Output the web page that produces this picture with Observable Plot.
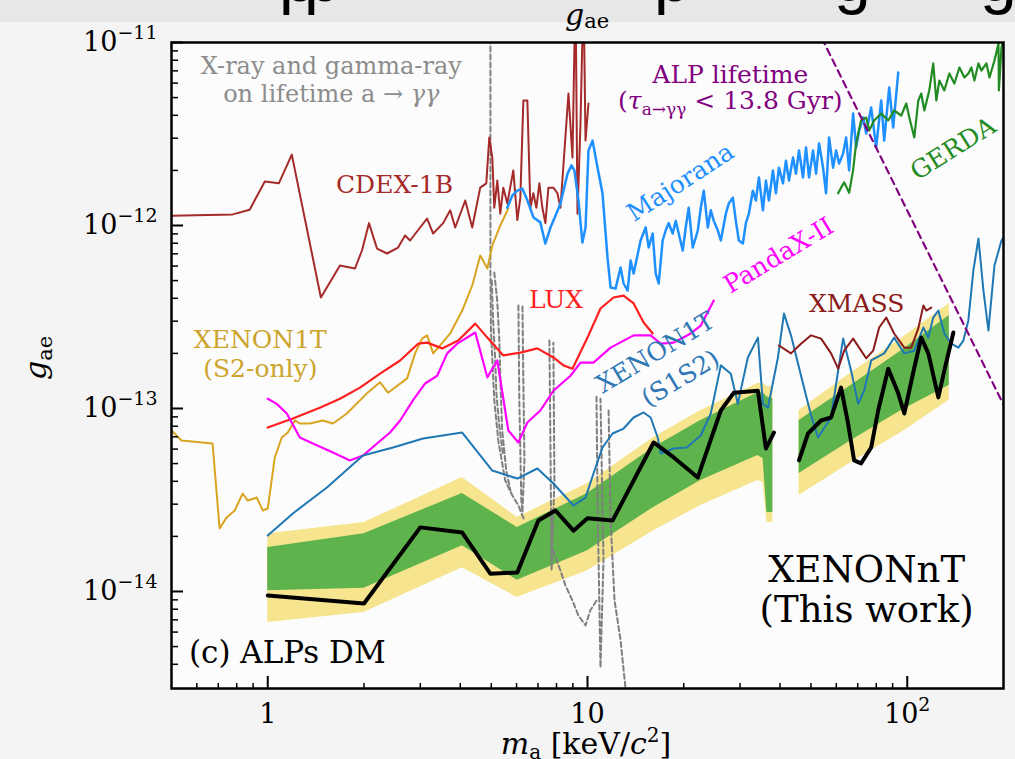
<!DOCTYPE html>
<html><head><meta charset="utf-8">
<script src="https://cdn.jsdelivr.net/npm/d3@7"></script>
<script src="https://cdn.jsdelivr.net/npm/@observablehq/plot@0.6"></script>
<style>
html,body{margin:0;padding:0;background:#f4f4f4;}
#chart{position:relative;width:1015px;height:759px;overflow:hidden;}
</style></head><body><div id="chart"></div>
<script>
// ---------- data: [mass keV/c^2, g_ae] ----------
const cdex1b = [[0.5,1.13e-12],[0.777,1.15e-12],[0.878,1.22e-12],[0.979,1.74e-12],[1.083,1.70e-12],[1.189,2.44e-12],[1.466,4.04e-13],[1.682,6.04e-13],[1.874,5.82e-13],[1.971,7.30e-13],[2.073,1.03e-12],[2.196,7.48e-13],[2.361,7.03e-13],[2.556,7.58e-13],[2.688,8.82e-13],[2.787,8.28e-13],[2.995,9.75e-13],[3.150,1.09e-12],[3.290,9.04e-13],[3.537,1.03e-12],[3.720,1.21e-12],[3.857,9.75e-13],[4.146,1.37e-12],[4.360,9.75e-13],[4.619,1.61e-12],[4.825,1.70e-12],[4.930,3.03e-12],[5.038,2.35e-12],[5.111,1.25e-12],[5.223,1.76e-12],[5.337,1.16e-12],[5.454,1.61e-12],[5.614,1.32e-12],[5.861,2.0e-12],[6.034,1.07e-12],[6.166,1.42e-12],[6.301,4.82e-12],[6.485,4.82e-12],[6.627,1.25e-12],[6.772,1.50e-12],[6.920,1.25e-12],[7.071,1.70e-12],[7.226,1.25e-12],[7.384,1.03e-12],[7.546,1.61e-12],[7.823,1.61e-12],[8.054,1.50e-12],[8.229,1.25e-12],[8.719,5.26e-12],[8.974,2.35e-12],[9.170,2e-11],[9.305,1.16e-12],[9.508,3.61e-12],[9.716,2e-11],[9.857,2.91e-12],[10.07,4.64e-12]];

const majorana = [[5.61,1.25e-12],[5.82,1.46e-12],[6.03,1.55e-12],[6.26,1.59e-12],[6.49,1.37e-12],[6.77,1.11e-12],[7.12,1.04e-12],[7.38,7.97e-13],[7.66,9.75e-13],[7.94,1.13e-12],[8.23,1.32e-12],[8.66,1.92e-12],[8.91,2.13e-12],[9.10,2.0e-12],[9.37,1.37e-12],[9.64,8.07e-13],[9.86,9.75e-13],[10.07,2.57e-12],[10.37,2.91e-12],[10.75,2.07e-12],[11.14,1.50e-12],[11.55,6.69e-13],[11.81,4.58e-13],[12.24,4.52e-13],[12.69,5.89e-13],[12.97,4.82e-13],[13.35,4.41e-13],[13.64,6.44e-13],[13.94,5.47e-13],[14.66,8.28e-13],[15.20,9.75e-13],[15.54,7.58e-13],[15.99,9.04e-13],[16.34,5.47e-13],[16.70,4.82e-13],[17.18,8.28e-13],[17.56,9.39e-13],[17.94,1.03e-12],[18.47,9.04e-13],[18.88,1.06e-12],[19.29,9.04e-13],[19.85,7.30e-13],[20.29,9.75e-13],[20.73,1.25e-12],[21.34,7.58e-13],[22.13,9.39e-13],[22.61,1.25e-12],[23.10,1.55e-12],[23.78,9.75e-13],[24.30,1.21e-12],[24.83,1.06e-12],[25.56,9.39e-13],[26.12,8.28e-13],[27.08,1.16e-12],[27.67,1.32e-12],[28.48,1.42e-12],[29.10,1.06e-12],[29.74,8.28e-13],[30.61,7.97e-13],[31.28,1.03e-12],[31.97,1.16e-12],[32.90,1.55e-12],[33.62,1.37e-12],[34.36,1.83e-12],[35.37,1.21e-12],[36.14,1.76e-12],[36.93,1.37e-12],[38.01,2.0e-12],[38.84,1.50e-12],[39.69,2.07e-12],[40.86,1.70e-12],[41.75,2.26e-12],[42.67,1.76e-12],[43.92,2.35e-12],[44.88,1.92e-12],[45.86,2.57e-12],[47.21,1.83e-12],[48.24,2.67e-12],[49.30,1.83e-12],[50.74,2.57e-12],[51.85,1.92e-12],[52.99,2.81e-12],[54.54,2.07e-12],[55.73,1.50e-12],[56.95,3.03e-12],[58.61,2.07e-12],[59.90,2.57e-12],[61.21,2.18e-12],[63.01,2.47e-12],[64.39,3.03e-12],[65.80,2.0e-12],[67.72,4.09e-12],[69.20,2.67e-12],[70.72,3.30e-12],[72.80,3.89e-12],[74.39,3.18e-12],[77.12,4.41e-12],[79.95,2.67e-12],[82.89,4.82e-12],[84.70,2.91e-12],[87.82,5.68e-12],[90.38,3.43e-12],[93.71,6.86e-12]];

const gerda = [[60.8,1.50e-12],[62.1,1.61e-12],[63.5,1.72e-12],[65.8,1.51e-12],[67.7,2.0e-12],[69.2,2.81e-12],[71.7,3.75e-12],[74.4,3.89e-12],[76.0,3.30e-12],[78.8,3.75e-12],[82.9,4.09e-12],[87.2,3.75e-12],[91.0,4.25e-12],[95.8,3.99e-12],[99.3,4.64e-12],[101.5,3.89e-12],[105.2,3.03e-12],[108.3,4.82e-12],[110.6,5.26e-12],[113.1,4.25e-12],[117.2,5.47e-12],[120.6,7.68e-12],[123.3,4.82e-12],[126.0,6.20e-12],[130.6,5.47e-12],[135.4,6.77e-12],[140.4,5.97e-12],[145.6,7.30e-12],[150.9,6.44e-12],[155.3,6.77e-12],[158.7,7.30e-12],[162.2,6.20e-12],[167.0,7.68e-12],[170.6,7.03e-12],[176.9,7.68e-12],[180.8,6.44e-12],[187.4,7.97e-12],[192.9,9.87e-12],[193.5,5.47e-12],[197.1,9.39e-12],[201.4,1.1e-11]];

const xenon1tS2 = [[0.5,7.58e-14],[0.5375,6.69e-14],[0.672,6.44e-14],[0.707,2.21e-14],[0.744,2.54e-14],[0.788,2.77e-14],[0.835,3.43e-14],[0.866,3.14e-14],[0.924,3.26e-14],[0.965,2.77e-14],[1.0,2.84e-14],[1.052,5.40e-14],[1.106,6.94e-14],[1.155,7.39e-14],[1.215,8.60e-14],[1.260,8.28e-14],[1.354,8.28e-14],[1.487,8.60e-14],[1.599,8.28e-14],[1.768,9.39e-14],[2.043,1.21e-13],[2.245,1.39e-13],[2.378,1.22e-13],[2.728,1.46e-13],[2.889,2.0e-13],[3.040,2.41e-13],[3.150,2.51e-13],[3.290,2.0e-13],[3.461,2.21e-13],[3.720,2.57e-13],[4.057,3.43e-13],[4.360,4.70e-13],[4.619,6.86e-13],[4.860,5.82e-13],[5.038,7.77e-13],[5.337,1.0e-12],[5.655,1.24e-12]];

const lux = [[1.0,7.87e-14],[1.198,8.82e-14],[1.455,1.01e-13],[1.682,1.13e-13],[1.943,1.30e-13],[2.245,1.55e-13],[2.594,1.83e-13],[2.953,2.26e-13],[3.150,2.29e-13],[3.512,2.13e-13],[3.940,2.35e-13],[4.457,2.91e-13],[4.860,2.44e-13],[5.454,1.95e-13],[6.166,2.02e-13],[6.971,2.13e-13],[7.823,1.90e-13],[8.409,1.72e-13],[8.974,1.65e-13],[10.0,2.44e-13],[10.98,3.52e-13],[12.06,4.04e-13],[12.97,4.14e-13],[13.94,3.75e-13],[14.98,2.95e-13],[15.99,2.57e-13]];

const pandax = [[1.0,1.13e-13],[1.067,1.06e-13],[1.147,9.39e-14],[1.260,6.94e-14],[1.384,6.44e-14],[1.599,5.75e-14],[1.807,5.20e-14],[1.985,5.53e-14],[2.196,6.44e-14],[2.413,7.39e-14],[2.594,8.60e-14],[2.848,1.11e-13],[3.106,1.37e-13],[3.388,1.51e-13],[3.640,2.0e-13],[3.913,2.26e-13],[4.457,2.60e-13],[4.860,1.48e-13],[5.223,1.83e-13],[5.655,7.58e-14],[6.076,6.52e-14],[6.485,8.38e-14],[7.12,9.75e-14],[7.823,1.25e-13],[8.846,1.51e-13],[9.508,1.78e-13],[10.44,1.78e-13],[11.81,2.15e-13],[13.94,2.51e-13],[15.76,2.51e-13],[16.94,2.26e-13],[18.61,2.29e-13],[21.03,2.57e-13],[22.61,2.84e-13],[24.83,3.89e-13]];

const xenon1tS1S2 = [[1.0,2.02e-14],[1.198,2.67e-14],[1.531,3.70e-14],[1.985,5.53e-14],[2.465,6.12e-14],[3.061,6.86e-14],[4.057,7.39e-14],[5.038,4.58e-14],[6.034,4.14e-14],[6.971,4.70e-14],[7.823,3.89e-14],[9.04,2.95e-14],[9.86,3.26e-14],[10.44,4.41e-14],[11.14,6.12e-14],[11.98,7.30e-14],[12.97,7.77e-14],[13.94,8.93e-14],[14.98,9.51e-14],[15.76,8.93e-14],[16.58,6.94e-14],[16.94,5.68e-14],[18.61,6.04e-14],[20.43,6.12e-14],[22.61,7.12e-14],[24.30,9.39e-14],[26.12,1.72e-13],[28.07,1.55e-13],[29.52,1.06e-13],[31.73,1.90e-13],[34.12,2.44e-13],[35.37,1.06e-13],[36.67,1.01e-13],[39.41,1.90e-13],[41.16,3.30e-13],[43.29,2.51e-13],[46.54,1.51e-13],[50.03,9.16e-14],[52.60,6.94e-14],[57.78,8.93e-14],[60.8,1.61e-13],[63.0,2.41e-13],[66.75,1.61e-13],[70.21,1.06e-13],[73.33,1.25e-13],[77.12,1.83e-13],[84.70,2.0e-13],[91.0,2.44e-13],[97.9,2.0e-13],[105.2,2.07e-13],[112.3,2.77e-13],[116.4,2.44e-13],[120.6,3.14e-13],[125.1,3.43e-13],[130.6,2.57e-13],[137.4,2.26e-13],[144.5,2.15e-13],[149.8,2.35e-13],[155.3,3.03e-13],[161.0,5.68e-13],[167.0,8.49e-13],[173.1,4.41e-13],[179.4,2.67e-13],[187.4,6.04e-13],[197.1,8.28e-13],[201.0,8.71e-13]];

const xmass = [[39.69,2.21e-13],[43.29,2.0e-13],[46.54,2.26e-13],[50.03,2.51e-13],[53.76,2.41e-13],[57.78,2.0e-13],[60.8,1.65e-13],[63.5,2.07e-13],[67.72,2.41e-13],[70.72,2.15e-13],[74.39,1.88e-13],[78.24,2.07e-13],[81.70,2.77e-13],[85.96,3.14e-13],[91.0,2.57e-13],[97.9,2.15e-13],[102.9,2.15e-13],[108.3,2.74e-13],[112.3,3.65e-13],[114.7,3.43e-13],[118.9,3.56e-13]];

// XENONnT observed limit (two mass windows)
const xenonntA = [[1.0,9.51e-15],[2.0,8.60e-15],[3.0,2.24e-14],[4.057,2.10e-14],[4.966,1.25e-14],[6.034,1.27e-14],[7.02,2.44e-14],[7.94,2.77e-14],[9.04,2.15e-14],[10.0,2.51e-14],[11.98,2.44e-14],[16.10,6.52e-14],[18.61,5.40e-14],[22.13,4.20e-14],[26.12,9.75e-14],[28.69,1.22e-13],[34.12,1.25e-13],[36.14,6.04e-14],[38.29,7.39e-14]];
const xenonntB = [[45.86,5.20e-14],[48.95,7.30e-14],[53.76,8.60e-14],[57.78,8.93e-14],[62.1,1.30e-13],[65.3,8.28e-14],[68.22,5.20e-14],[71.7,5.01e-14],[77.12,6.12e-14],[81.12,9.75e-14],[87.2,1.65e-13],[93.71,1.21e-13],[97.9,9.39e-14],[105.2,1.67e-13],[110.6,2.44e-13],[116.4,2.0e-13],[125.1,1.15e-13],[130.6,1.61e-13],[139.4,2.60e-13]];

// expected sensitivity bands: [mass, -2sigma, -1sigma, +1sigma, +2sigma]
const bandA = [[1.0,6.77e-15,1.01e-14,1.74e-14,2.07e-14],[2.0,7.68e-15,1.04e-14,2.07e-14,2.38e-14],[4.06,1.35e-14,1.78e-14,3.43e-14,4.20e-14],[6.03,9.27e-15,1.15e-14,2.24e-14,2.54e-14],[10.0,1.30e-14,1.67e-14,3.43e-14,3.89e-14],[16.1,2.15e-14,2.88e-14,6.12e-14,6.94e-14],[22.6,2.95e-14,4.04e-14,8.60e-14,9.75e-14],[34.1,4.04e-14,5.53e-14,1.22e-13,1.37e-13],[35.4,3.94e-14,5.33e-14,1.22e-13,1.37e-13],[36.4,2.38e-14,2.70e-14,1.16e-13,1.32e-13],[38.0,2.38e-14,2.70e-14,1.13e-13,1.32e-13]];
const bandB = [[45.9,3.35e-14,4.41e-14,8.60e-14,9.75e-14],[66.8,5.07e-14,6.69e-14,1.34e-13,1.57e-13],[95.8,7.39e-14,9.75e-14,2.07e-13,2.41e-13],[135.4,1.11e-13,1.34e-13,3.22e-13,3.75e-13]];

// X-ray / gamma-ray constraints (dashed gray)
const xray1 = [[4.97,1.05e-11],[4.97,5.68e-13],[4.99,2.67e-13],[5.11,1.11e-13],[5.26,6.69e-14],[5.53,4.04e-14],[5.82,3.35e-14],[6.08,2.95e-14],[6.35,2.44e-14]];
const xray2 = [[5.11,5.54e-13],[5.22,3.89e-13],[5.30,2.35e-13],[5.34,1.42e-13],[5.41,7.58e-14],[5.57,4.58e-14],[5.74,3.56e-14]];
const xray2b = [[5.02,5.0e-13],[5.06,3.2e-13],[5.14,1.9e-13],[5.19,1.2e-13],[5.30,8.0e-14],[5.45,5.5e-14]];
const xray3 = [[6.08,3.65e-13],[6.12,1.11e-13],[6.21,3.14e-14],[6.26,2.70e-14],[6.35,5.20e-14],[6.30,1.42e-13],[6.26,3.61e-13]];
const xray4 = [[7.60,2.35e-13],[7.66,5.89e-14],[7.72,1.30e-14],[7.88,4.04e-14],[7.82,2.29e-13]];
const xray5 = [[7.82,1.67e-14],[8.23,1.30e-14],[8.53,1.08e-14],[8.97,8.93e-15],[9.37,7.39e-15],[9.86,6.52e-15],[10.2,7.87e-15],[10.67,8.93e-15]];
const xray6 = [[10.67,1.16e-13],[10.75,3.14e-14],[10.98,3.84e-15],[11.22,1.48e-14],[10.98,1.13e-13]];
const xray7 = [[11.64,9.75e-14],[11.81,2.44e-14],[12.15,8.93e-15],[12.69,5.40e-15],[13.15,2.95e-15],[13.35,2.5e-15]];

// ALP lifetime (tau < 13.8 Gyr) boundary
const alpLifetime = [[52,1.21e-11],[200,1.05e-13]];

// ticks
const xTicksMajor = [1, 10, 100];
const xTickLabels = ["1", "10", "10^2"];
const xTicksMinor = [0.6,0.7,0.8,0.9,2,3,4,5,6,7,8,9,20,30,40,50,60,70,80,90];
const yTicksMajor = [1e-14, 1e-13, 1e-12, 1e-11];
const yTickLabels = ["10^-14", "10^-13", "10^-12", "10^-11"];
const yTicksMinor = [4e-15,5e-15,6e-15,7e-15,8e-15,9e-15,2e-14,3e-14,4e-14,5e-14,6e-14,7e-14,8e-14,9e-14,2e-13,3e-13,4e-13,5e-13,6e-13,7e-13,8e-13,9e-13,2e-12,3e-12,4e-12,5e-12,6e-12,7e-12,8e-12,9e-12];

// ---------- plot ----------
const W = 1015, H = 759, ML = 171, MR = 12, MT = 42, MB = 71;
const PW = W - ML - MR, PH = H - MT - MB;
const X = d => d[0], Y = d => d[1];
const ln = (data, stroke, strokeWidth, extra = {}) =>
  Plot.line(data, {x: X, y: Y, stroke, strokeWidth, clip: true, strokeLinejoin: "round", ...extra});

const plot = Plot.plot({
  width: W, height: H,
  marginLeft: ML, marginRight: MR, marginTop: MT, marginBottom: MB,
  x: {type: "log", domain: [0.5, 200], axis: null},
  y: {type: "log", domain: [2.95e-15, 1e-11], axis: null},
  style: {background: "transparent", fontFamily: "DejaVu Serif", overflow: "visible"},
  marks: [
    Plot.frame({fill: "#fcfcfc"}),
    Plot.areaY(bandA, {x: X, y1: d => d[1], y2: d => d[4], fill: "#f6e58e", clip: true}),
    Plot.areaY(bandB, {x: X, y1: d => d[1], y2: d => d[4], fill: "#f6e58e", clip: true}),
    Plot.areaY(bandA, {x: X, y1: d => d[2], y2: d => d[3], fill: "#5fb34c", clip: true}),
    Plot.areaY(bandB, {x: X, y1: d => d[2], y2: d => d[3], fill: "#5fb34c", clip: true}),
    ...[xray1, xray2, xray2b, xray3, xray4, xray5, xray6, xray7].map(a => ln(a, "#7f7f7f", 2, {strokeDasharray: "5,3"})),
    ln(cdex1b, "#a52a2a", 2),
    ln(xenon1tS2, "#d9a521", 2),
    ln(majorana, "#1e90ff", 2.5),
    ln(gerda, "#228b22", 2.2),
    ln(lux, "#ff1f1f", 2.2),
    ln(pandax, "#ff00ff", 2.2),
    ln(xenon1tS1S2, "#1f77b4", 2),
    ln(xmass, "#8b1a1a", 2),
    ln(xenonntA, "black", 4),
    ln(xenonntB, "black", 4),
    ln(alpLifetime, "#800080", 2.2, {strokeDasharray: "7,5"}),
    Plot.frame({stroke: "black", strokeWidth: 2.5}),
    Plot.tickY(yTicksMajor, {y: d => d, stroke: "black", strokeWidth: 2, insetRight: PW - 12}),
    Plot.tickY(yTicksMinor, {y: d => d, stroke: "black", strokeWidth: 1.5, insetRight: PW - 7}),
    Plot.tickX(xTicksMajor, {x: d => d, stroke: "black", strokeWidth: 2, insetTop: PH - 12}),
    Plot.tickX(xTicksMinor, {x: d => d, stroke: "black", strokeWidth: 1.5, insetTop: PH - 5}),
    Plot.axisY(yTicksMajor, {anchor: "left", tickSize: 0, tickPadding: 14, fontSize: 27, label: null,
      tickFormat: d => yTickLabels[yTicksMajor.indexOf(d)]}),
    Plot.axisX(xTicksMajor, {anchor: "bottom", tickSize: 0, tickPadding: 15, fontSize: 27, label: null,
      tickFormat: d => xTickLabels[xTicksMajor.indexOf(d)]})
  ]
});
document.getElementById("chart").appendChild(plot);

const svg = d3.select(plot);
// superscripts in tick labels
svg.selectAll('g[aria-label="y-axis tick label"] text, g[aria-label="x-axis tick label"] text').each(function () {
  const t = d3.select(this), s = t.text();
  if (s.includes("^")) {
    const [b, e] = s.split("^");
    t.text(null);
    t.append("tspan").text(b);
    t.append("tspan").attr("font-size", 19).attr("dy", -12).text(e.replace("-", "\u2212"));
  }
});

const sx = plot.scale("x"), sy = plot.scale("y");
function txt(x, y, spans, o = {}) {
  const t = svg.append("text")
    .attr("transform", `translate(${x},${y})` + (o.rotate ? ` rotate(${o.rotate})` : ""))
    .attr("text-anchor", o.anchor || "middle")
    .attr("font-family", o.family || "DejaVu Serif")
    .attr("font-size", o.size || 25)
    .attr("fill", o.color || "black");
  if (o.dy) t.attr("dy", o.dy);
  for (const s of spans) {
    const sp = typeof s === "string" ? {t: s} : s;
    const ts = t.append("tspan").text(sp.t);
    if (sp.italic) ts.attr("font-style", "italic");
    if (sp.size) ts.attr("font-size", sp.size);
    if (sp.dy) ts.attr("dy", sp.dy);
  }
  return t;
}
const at = (m, g) => [sx.apply(m), sy.apply(g)];

// top slide strip with the cut-off slide title (only descenders visible)
svg.insert("rect", ":first-child").attr("x", 0).attr("y", 0).attr("width", W).attr("height", 22).attr("fill", "#e7e7e7");
const titleGlyphs = [["p", 279], ["p", 304], ["p", 654], ["g", 834], ["g", 980]];
for (const [c, x] of titleGlyphs) txt(x, 1, [c], {family: "Liberation Sans", size: 66, anchor: "start"});

// annotations
let p;
p = at(1.586, 6.69e-12);
txt(p[0], p[1], ["X-ray and gamma-ray"], {color: "#8c8c8c", size: 24});
txt(p[0], p[1] + 28, ["on lifetime a \u2192 ", {t: "\u03b3\u03b3", italic: true}], {color: "#8c8c8c", size: 24});
p = at(2.50, 1.50e-12); txt(p[0], p[1], ["CDEX-1B"], {color: "#a52a2a"});
p = at(28.07, 5.97e-12);
txt(p[0], p[1], ["ALP lifetime"], {color: "#800080"});
txt(p[0], p[1] + 26, ["(", {t: "\u03c4", italic: true}, {t: "a\u2192\u03b3\u03b3", size: 17, dy: 6}, {t: " < 13.8 Gyr)", dy: -6}], {color: "#800080"});
p = at(19.56, 1.72e-12); txt(p[0], p[1], ["Majorana"], {color: "#1e90ff", rotate: -33, dy: "0.35em"});
p = at(139.4, 2.63e-12); txt(p[0], p[1], ["GERDA"], {color: "#228b22", rotate: -32, dy: "0.35em"});
p = at(39.7, 6.86e-13); txt(p[0], p[1], ["PandaX-II"], {color: "#ff00ff", rotate: -31, dy: "0.35em"});
p = at(8.0, 3.52e-13); txt(p[0], p[1], ["LUX"], {color: "#ff1f1f"});
p = at(69.7, 3.35e-13); txt(p[0], p[1], ["XMASS"], {color: "#8b1a1a"});
p = at(0.951, 2.13e-13);
txt(p[0], p[1], ["XENON1T"], {color: "#cca42c"});
txt(p[0], p[1] + 29, ["(S2-only)"], {color: "#cca42c"});
p = at(16.34, 2.02e-13); txt(p[0], p[1], ["XENON1T"], {color: "#2f78b5", rotate: -31, dy: "0.35em"});
p = at(19.56, 1.46e-13); txt(p[0], p[1], ["(S1S2)"], {color: "#2f78b5", rotate: -31, dy: "0.35em"});
p = at(74.9, 1.12e-14);
txt(p[0], p[1], ["XENONnT"], {size: 37});
txt(p[0], p[1] + 40, ["(This work)"], {size: 37});
p = at(0.569, 4.04e-15); txt(p[0], p[1], ["(c) ALPs DM"], {size: 31, anchor: "start"});

// axis titles
txt(46, 358, [{t: "g", italic: true}, {t: "ae", size: 21, dy: 6}], {size: 30, rotate: -90});
txt(587, 25, [{t: "g", italic: true}, {t: "ae", size: 21, dy: 3}], {size: 30});
txt(586, 754, [{t: "m", italic: true}, {t: "a", size: 20, dy: 5}, {t: " [keV/", dy: -5}, {t: "c", italic: true}, {t: "2", size: 20, dy: -12}, {t: "]", dy: 12}], {size: 30});
</script></body></html>
